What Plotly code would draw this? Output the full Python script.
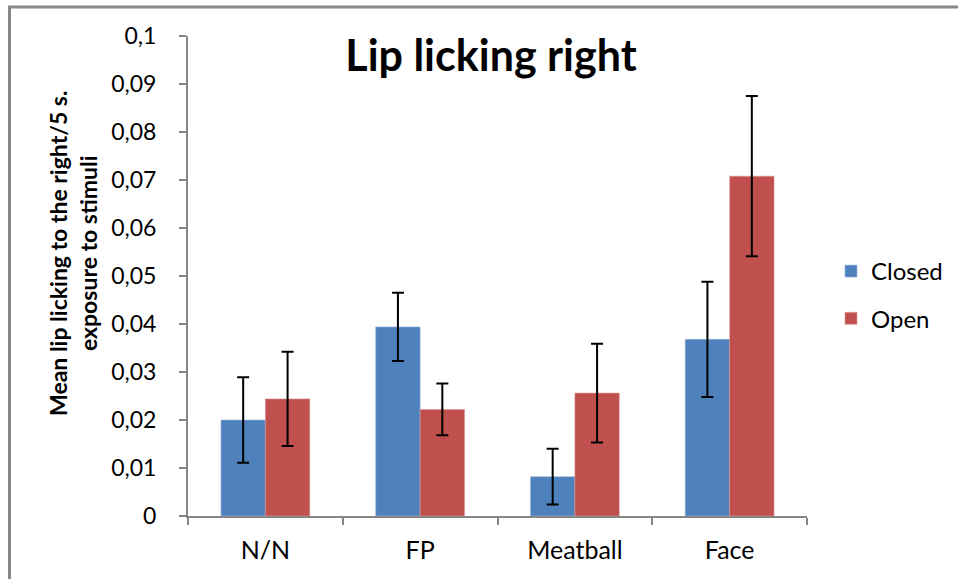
import plotly.graph_objects as go

categories = ["N/N", "FP", "Meatball", "Face"]
closed_vals = [0.0200, 0.0394, 0.0082, 0.0368]
closed_err = [0.0089, 0.0071, 0.0058, 0.0120]
open_vals = [0.0244, 0.0222, 0.0256, 0.0708]
open_err = [0.0098, 0.0054, 0.0103, 0.0167]
ytick_vals = [0, 0.01, 0.02, 0.03, 0.04, 0.05, 0.06, 0.07, 0.08, 0.09, 0.1]
ytick_text = ["0", "0,01", "0,02", "0,03", "0,04", "0,05", "0,06", "0,07", "0,08", "0,09", "0,1"]
y_title = "<b>Mean lip licking to the right/5 s.<br>exposure to stimuli</b>"

FONT = "Lato, Open Sans, sans-serif"

fig = go.Figure()
fig.add_trace(go.Bar(
    name="Closed", x=categories, y=closed_vals, legendgroup="a",
    marker=dict(color="#4F81BD", line=dict(color="#9DB7DA", width=0.6)),
    error_y=dict(type="data", array=closed_err, color="black", thickness=2, width=6),
))
fig.add_trace(go.Bar(
    name="Open", x=categories, y=open_vals, legendgroup="b",
    marker=dict(color="#C0504D", line=dict(color="#DC9A98", width=0.6)),
    error_y=dict(type="data", array=open_err, color="black", thickness=2, width=6),
))

L, R, T, B = 188, 151, 36, 63
W, H = 958, 579
pw, ph = W - L - R, H - T - B

def px2x(px):
    return (px - L) / pw

def py2y(py):
    return (H - B - py) / ph

fig.update_layout(
    width=W, height=H,
    margin=dict(l=L, r=R, t=T, b=B, autoexpand=False),
    paper_bgcolor="white", plot_bgcolor="white",
    barmode="group", bargap=0.426, bargroupgap=0,
    font=dict(family=FONT, color="black", size=24),
    title=dict(text="<b>Lip licking right</b>", x=491 / W, xanchor="center",
               y=1 - 56 / H, yanchor="middle",
               font=dict(family=FONT, size=43, color="black")),
    legend=dict(xref="container", yref="container", x=831 / W, y=1 - 249 / H,
                xanchor="left", yanchor="top",
                font=dict(family=FONT, size=24), traceorder="grouped",
                tracegroupgap=13, itemwidth=30, bgcolor="rgba(0,0,0,0)"),
    xaxis=dict(showline=True, linecolor="#868686", linewidth=2,
               ticks="outside", tickson="boundaries", ticklen=7, tickcolor="#868686",
               tickwidth=2, tickfont=dict(size=25), showgrid=False,
               ticklabelstandoff=11),
    yaxis=dict(range=[0, 0.1], showline=True, linecolor="#868686", linewidth=2,
               ticks="outside", ticklen=7, tickcolor="#868686", tickwidth=2,
               tickvals=ytick_vals, ticktext=ytick_text, showgrid=False,
               tickfont=dict(size=23), zeroline=False, ticklabelstandoff=18),
    annotations=[dict(text=y_title, xref="paper", yref="paper",
                      x=px2x(73), y=py2y(254), textangle=-90,
                      xanchor="center", yanchor="middle", showarrow=False,
                      font=dict(family=FONT, size=23, color="black"))],
    shapes=[dict(type="rect", xref="paper", yref="paper",
                 x0=px2x(9.5), x1=px2x(1000), y0=py2y(620), y1=py2y(7),
                 line=dict(color="#888888", width=3), fillcolor="rgba(0,0,0,0)",
                 layer="below")],
)

fig.write_html("out.html", config={"displayModeBar": False},
               post_script="document.body.style.margin='0';document.body.style.overflow='hidden';")
